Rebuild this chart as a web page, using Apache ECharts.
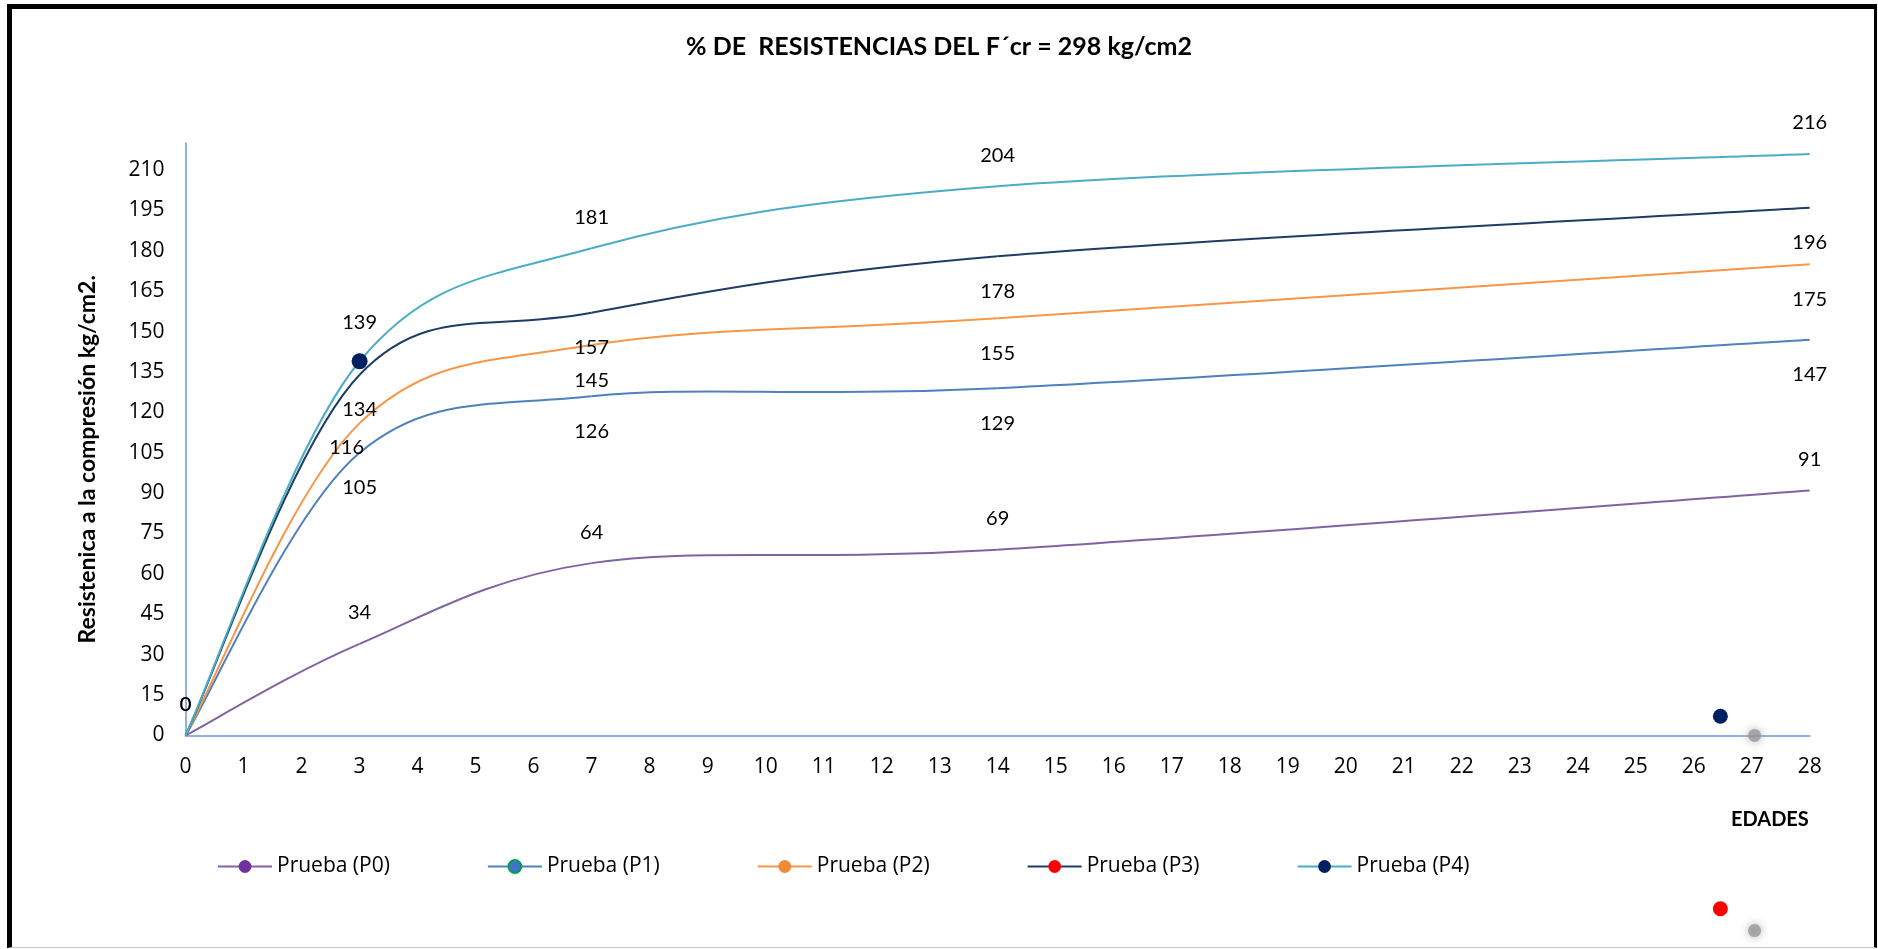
<!DOCTYPE html>
<html>
<head>
<meta charset="utf-8">
<title>% DE RESISTENCIAS DEL F´cr = 298 kg/cm2</title>
<script src="https://cdn.jsdelivr.net/npm/echarts@6/dist/echarts.min.js"></script>
<style>
  html, body { margin: 0; padding: 0; background: #fff; }
  #chart { position: absolute; left: 0; top: 0; width: 1878px; height: 949px; }
  #marco {
    position: absolute; left: 7px; top: 4px; width: 1870px; height: 944px;
    box-sizing: border-box; pointer-events: none;
    border-top: 5px solid #000; border-left: 5px solid #000;
    border-right: 3px solid #000; border-bottom: 1px solid #c8c8c8;
  }
</style>
</head>
<body>
<div id="chart"></div>
<div id="marco"></div>
<script>
// Edades de ensayo (días)
const edades = [0, 3, 7, 14, 28];

// Resistencia a la compresión (kg/cm2) por prueba
const pruebaP0 = [0, 34, 64, 69, 91];
const pruebaP1 = [0, 105, 126, 129, 147];
const pruebaP2 = [0, 116, 145, 155, 175];
const pruebaP3 = [0, 134, 157, 178, 196];
const pruebaP4 = [0, 139, 181, 204, 216];

const nombres = ['Prueba (P0)', 'Prueba (P1)', 'Prueba (P2)', 'Prueba (P3)', 'Prueba (P4)'];

// Marcadores sueltos [edad, valor]
const marcasSueltas = [[26.46, 7.1], [27.05, 0], [26.46, -64.4], [27.05, -72.5]];

const chart = echarts.init(document.getElementById('chart'), null, { renderer: 'canvas' });

const fuenteEtiqueta = 'Lato, "Open Sans", sans-serif';
const fuenteEje = '"Open Sans", sans-serif';

// Serie de línea: aporta etiquetas, marcador y el icono de la leyenda
function serie(nombre, valores, estilo) {
  const datos = edades.map((x, i) => {
    const d = { value: [x, valores[i]], symbolSize: 0 };
    if (estilo.itemSizes && estilo.itemSizes[i]) d.symbolSize = estilo.itemSizes[i];
    if (i === 0 && !estilo.labelCero) d.label = { show: false };
    if (estilo.labelOffsets && estilo.labelOffsets[i]) d.label = { offset: estilo.labelOffsets[i] };
    return d;
  });
  return {
    name: nombre,
    type: 'line',
    symbol: 'circle',
    showSymbol: true,
    data: datos,
    lineStyle: { color: estilo.linea, width: 2, opacity: 0 },
    itemStyle: { color: estilo.marca, borderColor: estilo.borde || estilo.marca, borderWidth: estilo.borde ? 1.5 : 0 },
    label: {
      show: true,
      position: estilo.pos,
      distance: estilo.pos === 'top' ? 21 : 25,
      color: '#000',
      fontFamily: fuenteEtiqueta,
      fontSize: 20,
      formatter: p => p.value[1]
    },
    emphasis: { disabled: true },
    z: 3
  };
}

// Curva suavizada (Bézier tipo Catmull-Rom, tensión 1/6) trazada tramo a tramo
function curva(nombre, valores, color) {
  const pts = edades.map((x, i) => [x, valores[i]]);
  const n = pts.length;
  return {
    name: nombre,
    type: 'custom',
    silent: true,
    encode: { x: 0, y: 1 },
    data: pts,
    z: 2,
    renderItem: (params, api) => {
      const i = params.dataIndex;
      if (i >= n - 1) return null;
      const p = pts.map(v => api.coord(v));
      const a = p[Math.max(i - 1, 0)], b = p[i], c = p[i + 1], d = p[Math.min(i + 2, n - 1)];
      return {
        type: 'bezierCurve',
        shape: {
          x1: b[0], y1: b[1],
          cpx1: b[0] + (c[0] - a[0]) / 6, cpy1: b[1] + (c[1] - a[1]) / 6,
          cpx2: c[0] - (d[0] - b[0]) / 6, cpy2: c[1] - (d[1] - b[1]) / 6,
          x2: c[0], y2: c[1]
        },
        style: { stroke: color, lineWidth: 2, fill: null }
      };
    }
  };
}

const estilos = [
  { linea: '#8064a2', marca: '#7030a0', pos: 'top', labelCero: true },
  { linea: '#4f81bd', marca: '#4472c4', borde: '#00a050', pos: 'bottom' },
  { linea: '#f79646', marca: '#f08a33', pos: 'bottom', labelOffsets: { 1: [-13, -11] } },
  { linea: '#1f3d63', marca: '#ff0000', pos: 'bottom' },
  { linea: '#4bacc6', marca: '#002060', pos: 'top', labelCero: true, itemSizes: { 1: 16 } }
];
const valoresPorPrueba = [pruebaP0, pruebaP1, pruebaP2, pruebaP3, pruebaP4];

const series = [];
valoresPorPrueba.forEach((v, k) => series.push(curva('curva ' + nombres[k], v, estilos[k].linea)));
valoresPorPrueba.forEach((v, k) => series.push(serie(nombres[k], v, estilos[k])));
series.push({
  name: 'marcas',
  type: 'scatter',
  clip: false,
  silent: true,
  data: [
    { value: marcasSueltas[0], symbolSize: 15, itemStyle: { color: '#002060', opacity: 1 } },
    { value: marcasSueltas[1], symbolSize: 13, itemStyle: { color: 'rgba(150,150,150,0.75)', opacity: 1, shadowBlur: 8, shadowColor: 'rgba(140,140,140,0.9)' } },
    { value: marcasSueltas[2], symbolSize: 15, itemStyle: { color: '#ff0000', opacity: 1 } },
    { value: marcasSueltas[3], symbolSize: 13, itemStyle: { color: 'rgba(150,150,150,0.75)', opacity: 1, shadowBlur: 8, shadowColor: 'rgba(140,140,140,0.9)' } }
  ],
  z: 4
});

const option = {
  backgroundColor: '#fff',
  animation: false,
  title: {
    text: '% DE  RESISTENCIAS DEL F´cr = 298 kg/cm2',
    left: 'center',
    top: 29,
    textStyle: { fontFamily: fuenteEtiqueta, fontWeight: 'bold', fontSize: 25, color: '#000' }
  },
  legend: {
    data: nombres,
    left: 217,
    top: 856,
    padding: 0,
    itemWidth: 54,
    itemHeight: 16,
    itemGap: 97,
    lineStyle: { opacity: 1 },
    textStyle: { fontFamily: fuenteEje, fontSize: 21, color: '#000' }
  },
  grid: { left: 185.6, right: 68.3, top: 143.2, bottom: 213.6, containLabel: false },
  xAxis: {
    type: 'value',
    min: 0, max: 28, interval: 1,
    axisLine: { show: true, lineStyle: { color: '#8fb4e3', width: 2 } },
    axisTick: { show: false },
    splitLine: { show: false },
    axisLabel: { margin: 21, color: '#000', fontFamily: fuenteEje, fontSize: 21 }
  },
  yAxis: {
    type: 'value',
    min: 0, max: 220, interval: 15,
    axisLine: { show: true, lineStyle: { color: '#8fb4e3', width: 2 } },
    axisTick: { show: false },
    splitLine: { show: false },
    axisLabel: { margin: 21, showMaxLabel: false, color: '#000', fontFamily: fuenteEje, fontSize: 21 },
    name: 'Resistenica a la compresión kg/cm2.',
    nameLocation: 'middle',
    nameGap: 87,
    nameTextStyle: { fontFamily: fuenteEtiqueta, fontWeight: 'bold', fontSize: 23, color: '#000', padding: [0, 40, 0, 0] }
  },
  graphic: [{
    type: 'text',
    left: 1731, top: 810,
    style: { text: 'EDADES', fontFamily: fuenteEtiqueta, fontWeight: 'bold', fontSize: 20, fill: '#000' }
  }],
  series: series
};

chart.setOption(option);
</script>
</body>
</html>
